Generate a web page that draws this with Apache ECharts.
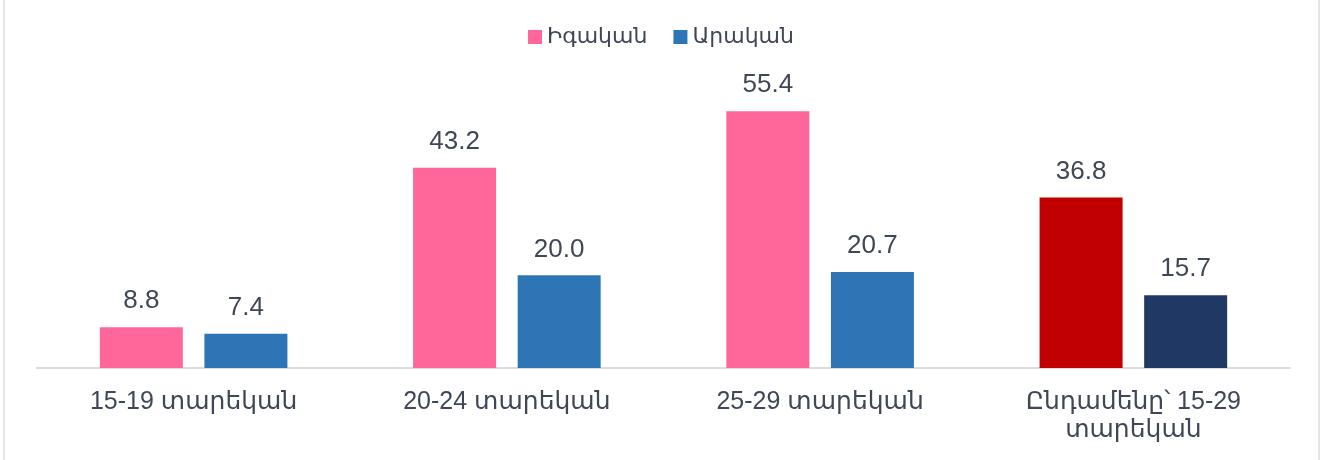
<!DOCTYPE html>
<html>
<head>
<meta charset="utf-8">
<script src="https://cdn.jsdelivr.net/npm/echarts@6/dist/echarts.min.js"></script>
<style>
  html, body { margin: 0; padding: 0; background: #fff; }
  #chart { width: 1322px; height: 460px; }
</style>
</head>
<body>
<div id="chart"></div>
<script>
var categories = ['15-19 տարեկան', '20-24 տարեկան', '25-29 տարեկան', 'Ընդամենը՝ 15-29\nտարեկան'];
var femaleValues = [8.8, 43.2, 55.4, 36.8];
var maleValues = [7.4, 20.0, 20.7, 15.7];
var seriesNames = ['Իգական', 'Արական'];

var textColor = '#3f4757';
var fontFamily = '"Liberation Sans", "DejaVu Sans", Arial, sans-serif';

// the total column is drawn in darker colours
function colorize(values, totalColor) {
    return values.map(function (v, i) {
        if (i === values.length - 1) {
            return { value: v, itemStyle: { color: totalColor } };
        }
        return v;
    });
}

var valueLabel = {
    show: true,
    position: 'top',
    distance: 13,
    fontSize: 26,
    color: textColor,
    fontFamily: fontFamily,
    formatter: function (p) { return p.value.toFixed(1); }
};

var chart = echarts.init(document.getElementById('chart'));
chart.setOption({
    animation: false,
    backgroundColor: '#ffffff',
    textStyle: { fontFamily: fontFamily },
    legend: {
        top: 21,
        left: 'center',
        itemWidth: 14,
        itemHeight: 14,
        itemGap: 26,
        icon: 'rect',
        textStyle: { fontSize: 22, color: textColor, fontFamily: fontFamily }
    },
    grid: { left: 37, right: 32, top: 90, bottom: 92 },
    xAxis: {
        type: 'category',
        data: categories,
        axisLine: { lineStyle: { color: '#d9dde3', width: 2 } },
        axisTick: { show: false },
        axisLabel: {
            fontSize: 25,
            color: textColor,
            margin: 20,
            lineHeight: 28,
            fontFamily: fontFamily
        }
    },
    yAxis: {
        type: 'value',
        min: 0,
        max: 60,
        show: false
    },
    series: [
        {
            name: seriesNames[0],
            type: 'bar',
            data: colorize(femaleValues, '#c00000'),
            itemStyle: { color: '#ff6699' },
            barWidth: 83,
            barGap: '26%',
            label: valueLabel
        },
        {
            name: seriesNames[1],
            type: 'bar',
            data: colorize(maleValues, '#1f3864'),
            itemStyle: { color: '#2e75b6' },
            barWidth: 83,
            label: valueLabel
        }
    ],
    graphic: [
        { type: 'rect', shape: { x: 3, y: 0, width: 2, height: 460 }, style: { fill: '#e3e6ea' }, silent: true },
        { type: 'rect', shape: { x: 1318, y: 0, width: 2, height: 460 }, style: { fill: '#e3e6ea' }, silent: true }
    ]
});
</script>
</body>
</html>
